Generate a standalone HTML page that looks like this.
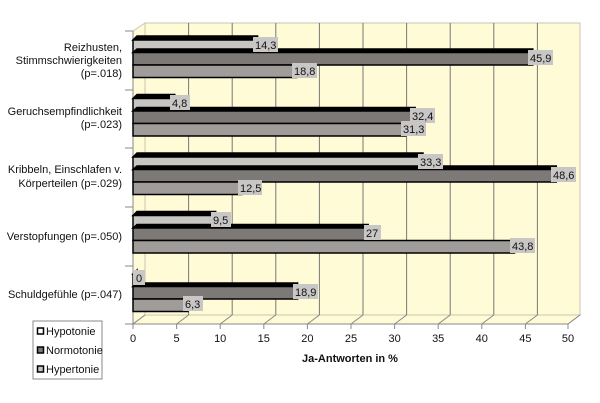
<!DOCTYPE html>
<html><head><style>
html,body{margin:0;padding:0;background:#fff;}
svg{display:block;font-family:"Liberation Sans",sans-serif;}
</style></head><body>
<svg width="600" height="403" viewBox="0 0 600 403">
<!-- walls -->
<polygon points="145,23 580,23 580,315 145,315" fill="#fffbd6" stroke="#c8c4b0" stroke-width="1"/>
<polygon points="133,31 145,23 145,315 133,324" fill="#fffbd6" stroke="#c8c4b0" stroke-width="1"/>
<polygon points="133,324 568,324 580,315 145,315" fill="#fffbd6" stroke="#c8c4b0" stroke-width="1"/>
<g stroke="#777" stroke-width="1">
<line x1="188.6" y1="23" x2="188.6" y2="315"/><line x1="232.2" y1="23" x2="232.2" y2="315"/>
<line x1="275.8" y1="23" x2="275.8" y2="315"/><line x1="319.4" y1="23" x2="319.4" y2="315"/>
<line x1="363" y1="23" x2="363" y2="315"/><line x1="406.6" y1="23" x2="406.6" y2="315"/>
<line x1="450.2" y1="23" x2="450.2" y2="315"/><line x1="493.8" y1="23" x2="493.8" y2="315"/>
<line x1="537.4" y1="23" x2="537.4" y2="315"/>
</g>
<g stroke="#888" stroke-width="1">
<line x1="133" y1="324" x2="568" y2="324"/>
<line x1="133" y1="31" x2="133" y2="324"/>
<line x1="125" y1="31" x2="133" y2="31"/><line x1="125" y1="90" x2="133" y2="90"/>
<line x1="125" y1="148" x2="133" y2="148"/><line x1="125" y1="207" x2="133" y2="207"/>
<line x1="125" y1="266" x2="133" y2="266"/><line x1="125" y1="324" x2="133" y2="324"/>
</g>
<g stroke="#888" stroke-width="1" fill="none">
<path d="M133,324 L145,315 M176.6,324 L188.6,315 M220.2,324 L232.2,315 M263.8,324 L275.8,315 M307.4,324 L319.4,315 M351,324 L363,315 M394.6,324 L406.6,315 M438.2,324 L450.2,315 M481.8,324 L493.8,315 M525.4,324 L537.4,315 M568,324 L580,315"/>
<path d="M133,324v5 M176.6,324v5 M220.2,324v5 M263.8,324v5 M307.4,324v5 M351,324v5 M394.6,324v5 M438.2,324v5 M481.8,324v5 M525.4,324v5 M568,324v5"/>
</g>
<g font-size="11" fill="#111" text-anchor="middle">
<text x="133" y="342">0</text><text x="176.6" y="342">5</text><text x="220.2" y="342">10</text>
<text x="263.8" y="342">15</text><text x="307.4" y="342">20</text><text x="351" y="342">25</text>
<text x="394.6" y="342">30</text><text x="438.2" y="342">35</text><text x="481.8" y="342">40</text>
<text x="525.4" y="342">45</text><text x="568" y="342">50</text>
</g>
<text x="350" y="362" font-size="11" font-weight="bold" text-anchor="middle" fill="#111">Ja-Antworten in %</text>
<!-- category labels -->
<g font-size="11" fill="#111" text-anchor="end">
<text x="122" y="51">Reizhusten,</text><text x="122" y="64">Stimmschwierigkeiten</text><text x="122" y="77">(p=.018)</text>
<text x="122" y="115">Geruchsempfindlichkeit</text><text x="122" y="128">(p=.023)</text>
<text x="122" y="173">Kribbeln, Einschlafen v.</text><text x="122" y="187">Körperteilen (p=.029)</text>
<text x="122" y="240">Verstopfungen (p=.050)</text>
<text x="122" y="298">Schuldgefühle (p=.047)</text>
</g>
<!-- bars -->
<g id="bars" stroke="#000" stroke-width="1.5">
<!-- g1 y0=36 -->
<polygon points="133,40 137,36 257.6,36 257.6,40" fill="#000"/>
<rect x="133" y="40" width="124.6" height="12.5" fill="#c8c6c3"/>
<polygon points="133,52.5 137,49 532.8,49 532.8,52.5" fill="#000"/>
<rect x="133" y="52.5" width="399.8" height="12.5" fill="#7d7977"/>
<rect x="133" y="65" width="163.7" height="12.5" fill="#a09c9a"/>
<!-- g2 y0=94.5 -->
<polygon points="133,98.5 137,94.5 174.8,94.5 174.8,98.5" fill="#000"/>
<rect x="133" y="98.5" width="41.8" height="12.5" fill="#c8c6c3"/>
<polygon points="133,111 137,107.5 415.2,107.5 415.2,111" fill="#000"/>
<rect x="133" y="111" width="282.2" height="12.5" fill="#7d7977"/>
<rect x="133" y="123.5" width="272.6" height="12.5" fill="#a09c9a"/>
<!-- g3 y0=153 -->
<polygon points="133,157 137,153 423,153 423,157" fill="#000"/>
<rect x="133" y="157" width="290" height="12.5" fill="#c8c6c3"/>
<polygon points="133,169.5 137,166 556.3,166 556.3,169.5" fill="#000"/>
<rect x="133" y="169.5" width="423.3" height="12.5" fill="#7d7977"/>
<rect x="133" y="182" width="108.9" height="12.5" fill="#a09c9a"/>
<!-- g4 y0=211.5 -->
<polygon points="133,215.5 137,211.5 215.7,211.5 215.7,215.5" fill="#000"/>
<rect x="133" y="215.5" width="82.7" height="12.5" fill="#c8c6c3"/>
<polygon points="133,228 137,224.5 368.2,224.5 368.2,228" fill="#000"/>
<rect x="133" y="228" width="235.2" height="12.5" fill="#7d7977"/>
<rect x="133" y="240.5" width="381.5" height="12.5" fill="#a09c9a"/>
<!-- g5 y0=270 -->
<polygon points="133,274 137,270 137,274" fill="#000"/>
<rect x="133" y="274" width="1" height="12.5" fill="#c8c6c3"/>
<polygon points="133,286.5 137,283 297.6,283 297.6,286.5" fill="#000"/>
<rect x="133" y="286.5" width="164.6" height="12.5" fill="#7d7977"/>
<rect x="133" y="299" width="54.9" height="12.5" fill="#a09c9a"/>
</g>
<!-- value labels -->
<g font-size="11" fill="#111">
<g fill="#c9c7c6" stroke="none">
<rect x="253" y="37" width="25" height="15"/><rect x="528" y="50" width="25" height="15"/><rect x="292" y="63" width="25" height="15"/>
<rect x="170" y="95" width="20" height="15"/><rect x="410" y="108" width="25" height="15"/><rect x="401" y="121" width="25" height="15"/>
<rect x="418" y="154" width="25" height="15"/><rect x="551" y="167" width="25" height="15"/><rect x="238" y="180" width="24" height="15"/>
<rect x="211" y="212" width="20" height="15"/><rect x="364" y="225" width="17" height="15"/><rect x="510" y="238" width="25" height="15"/>
<rect x="133" y="270" width="12" height="15"/><rect x="293" y="284" width="25" height="15"/><rect x="183" y="296" width="20" height="15"/>
</g>
<text x="255" y="49">14,3</text><text x="530" y="62">45,9</text><text x="294" y="75">18,8</text>
<text x="172" y="107">4,8</text><text x="412" y="120">32,4</text><text x="403" y="133">31,3</text>
<text x="420" y="166">33,3</text><text x="553" y="179">48,6</text><text x="240" y="192">12,5</text>
<text x="213" y="224">9,5</text><text x="366" y="237">27</text><text x="512" y="250">43,8</text>
<text x="136" y="282">0</text><text x="295" y="296">18,9</text><text x="185" y="308">6,3</text>
</g>
<!-- legend -->
<rect x="33" y="321" width="69" height="58" fill="#fff" stroke="#888"/>
<rect x="37.5" y="328" width="6" height="6" fill="#fff" stroke="#000" stroke-width="1.5"/>
<rect x="37.5" y="347" width="6" height="6" fill="#7d7977" stroke="#000" stroke-width="1.5"/>
<rect x="37.5" y="366" width="6" height="6" fill="#c8c6c3" stroke="#000" stroke-width="1.5"/>
<g font-size="11" fill="#111">
<text x="46" y="335">Hypotonie</text><text x="46" y="354">Normotonie</text><text x="46" y="373">Hypertonie</text>
</g>
</svg>
</body></html>
